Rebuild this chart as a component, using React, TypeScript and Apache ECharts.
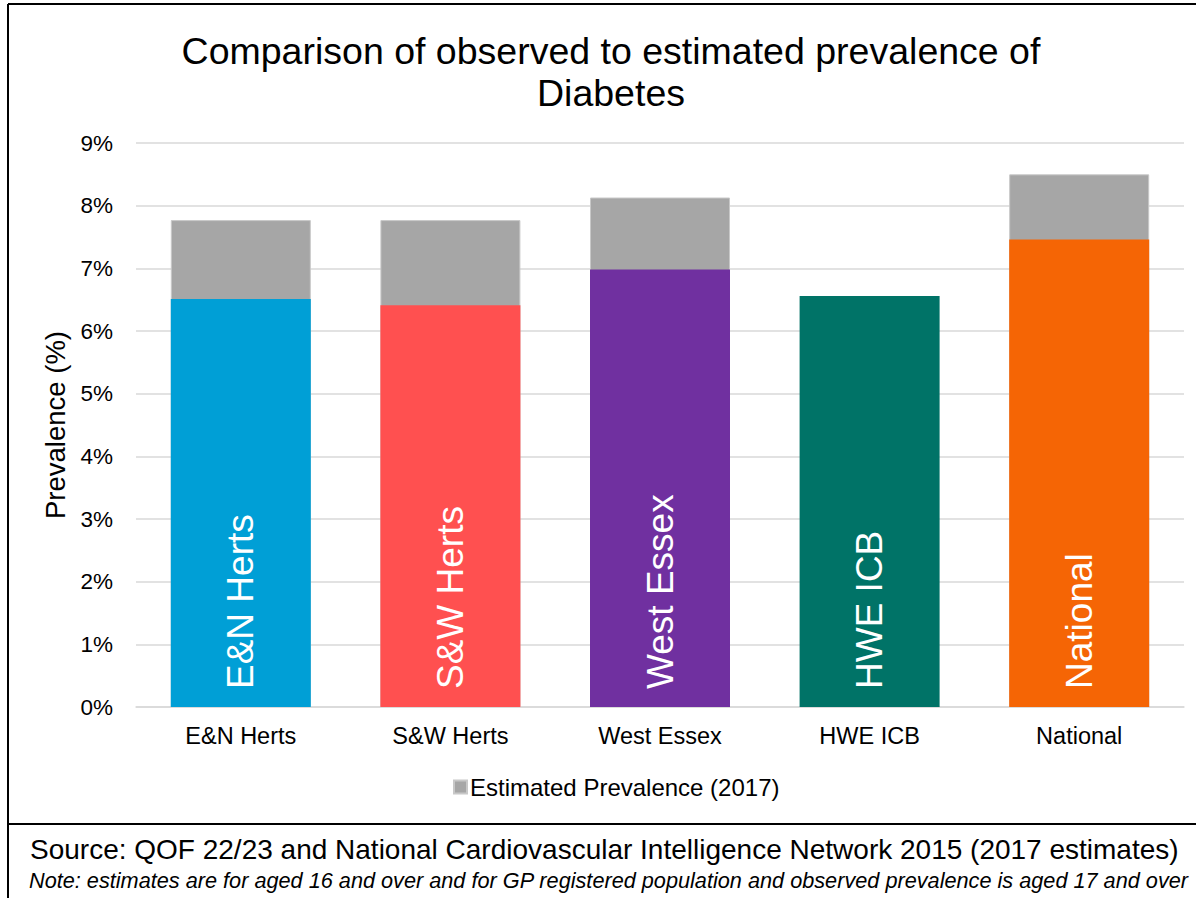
import React, { useEffect, useRef } from "react";
import * as echarts from "echarts";

const categories = ["E&N Herts", "S&W Herts", "West Essex", "HWE ICB", "National"];
const observed = [6.51, 6.41, 6.98, 6.56, 7.46];
const estimated: (number | null)[] = [7.77, 7.77, 8.13, null, 8.5];
const barColors = ["#009FD6", "#FF5050", "#7030A0", "#007367", "#F56505"];
const yTicks = [0, 1, 2, 3, 4, 5, 6, 7, 8, 9];

const FONT = "Liberation Sans, Arial, sans-serif";

export default function App() {
  const ref = useRef<HTMLDivElement>(null);
  useEffect(() => {
    document.body.style.margin = "0";
    const chart = echarts.init(ref.current!, null, { renderer: "svg" });
    chart.setOption({
      animation: false,
      backgroundColor: "#ffffff",
      textStyle: { fontFamily: FONT },
      title: {
        text: "Comparison of observed to estimated prevalence of\nDiabetes",
        left: 606,
        textAlign: "center",
        top: 25,
        textStyle: { fontFamily: FONT, fontSize: 37.5, fontWeight: "normal", color: "#000", lineHeight: 42 },
      },
      legend: {
        data: ["Estimated Prevalence (2017)"],
        left: 448,
        top: 770,
        itemWidth: 13,
        itemHeight: 13,
        itemGap: 5,
        icon: "rect",
        textStyle: { fontFamily: FONT, fontSize: 24, color: "#000", padding: [0, 0, 0, -2] },
      },
      grid: { left: 136, right: 12, top: 143, bottom: 191 },
      xAxis: {
        type: "category",
        data: categories,
        axisLine: { show: true, lineStyle: { color: "#d9d9d9", width: 1.5 } },
        axisTick: { show: false },
        axisLabel: { color: "#000", fontSize: 23.5, fontFamily: FONT, margin: 17 },
      },
      yAxis: {
        type: "value",
        min: yTicks[0],
        max: yTicks[yTicks.length - 1],
        interval: 1,
        name: "Prevalence (%)",
        nameLocation: "middle",
        nameGap: 64,
        nameTextStyle: { color: "#000", fontSize: 27.5, fontFamily: FONT },
        axisLabel: { color: "#000", fontSize: 22.5, fontFamily: FONT, margin: 23, formatter: "{value}%" },
        splitLine: { lineStyle: { color: "#d9d9d9", width: 1.5 } },
        axisLine: { show: false },
        axisTick: { show: false },
      },
      series: [
        {
          name: "Estimated Prevalence (2017)",
          type: "bar",
          data: estimated,
          barWidth: 140,
          barGap: "-100%",
          itemStyle: { color: "#A6A6A6", borderColor: "#c8c8c8", borderWidth: 1 },
          z: 2,
        },
        {
          name: "Observed",
          type: "bar",
          data: observed.map((v, i) => ({ value: v, itemStyle: { color: barColors[i] } })),
          barWidth: 140,
          barGap: "-100%",
          z: 3,
          label: {
            show: true,
            position: "insideBottom",
            rotate: 90,
            align: "left",
            verticalAlign: "middle",
            distance: 18,
            color: "#fff",
            fontSize: 37,
            fontFamily: FONT,
            formatter: (p: any) => categories[p.dataIndex],
          },
        },
      ],
      graphic: [
        { type: "line", shape: { x1: 8, y1: 4, x2: 1196, y2: 4 }, style: { stroke: "#000", lineWidth: 2 } },
        { type: "line", shape: { x1: 8, y1: 4, x2: 8, y2: 898 }, style: { stroke: "#000", lineWidth: 2 } },
        { type: "line", shape: { x1: 8, y1: 824, x2: 1196, y2: 824 }, style: { stroke: "#000", lineWidth: 2 } },
        {
          type: "text",
          left: 30,
          top: 835,
          style: {
            text: "Source: QOF 22/23 and National Cardiovascular Intelligence Network 2015 (2017 estimates)",
            fill: "#000",
            font: `28px ${FONT}`,
          },
        },
        {
          type: "text",
          left: 29,
          top: 869,
          style: {
            text: "Note: estimates are for aged 16 and over and for GP registered population and observed prevalence is aged 17 and over",
            fill: "#000",
            font: `italic 21.7px ${FONT}`,
          },
        },
      ],
    });
    return () => chart.dispose();
  }, []);
  return <div ref={ref} style={{ width: 1196, height: 898 }} />;
}
